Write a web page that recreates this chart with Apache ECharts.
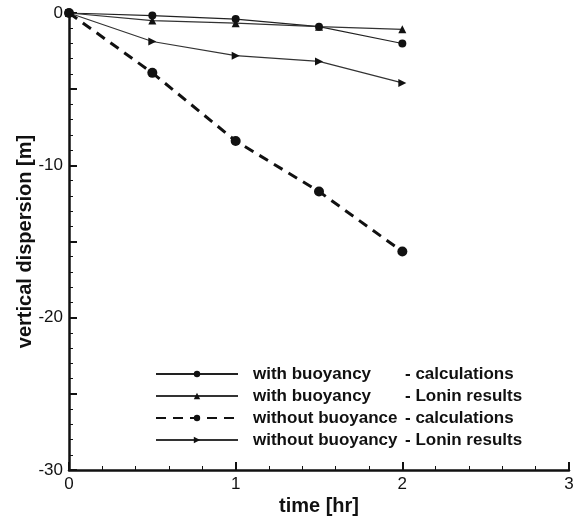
<!DOCTYPE html>
<html>
<head>
<meta charset="utf-8">
<script src="https://cdn.jsdelivr.net/npm/echarts@6/dist/echarts.min.js"></script>
<style>html,body{margin:0;padding:0;background:#fff}#c{width:578px;height:521px}</style>
</head>
<body>
<div id="c"></div>
<script>
var times = [0, 0.5, 1, 1.5, 2];
var withBuoyCalc = [0, -0.17, -0.4, -0.9, -2.0];
var withBuoyLonin = [0, -0.5, -0.67, -0.9, -1.07];
var withoutBuoyCalc = [0, -3.93, -8.4, -11.72, -15.66];
var withoutBuoyLonin = [0, -1.87, -2.8, -3.18, -4.59];
var legendLeft = ['with buoyancy', 'with buoyancy', 'without buoyance', 'without buoyancy'];
var legendRight = ['- calculations', '- Lonin results', '- calculations', '- Lonin results'];
var seriesNames = ['s1', 's2', 's3', 's4'];

function pairs(ys) { return times.map(function (t, i) { return [t, ys[i]]; }); }

var chart = echarts.init(document.getElementById('c'), null, {renderer: 'canvas'});
var font = 'Liberation Sans, Arial, sans-serif';
var ink = '#111';
chart.setOption({
  animation: false,
  backgroundColor: '#fff',
  grid: {left: 69, top: 13, right: 9, bottom: 48, containLabel: false},
  legend: {
    orient: 'vertical', left: 150, top: 359,
    itemWidth: 82, itemHeight: 8, itemGap: 2,
    data: seriesNames,
    formatter: function (name) {
      var i = seriesNames.indexOf(name);
      return '{a|' + legendLeft[i] + '}{b|' + legendRight[i] + '}';
    },
    textStyle: {
      color: ink, fontFamily: font, fontSize: 17, fontWeight: 'bold', lineHeight: 20,
      rich: {
        a: {width: 152, fontFamily: font, fontSize: 17, fontWeight: 'bold', color: ink, padding: [0, 0, 0, 10]},
        b: {fontFamily: font, fontSize: 17, fontWeight: 'bold', color: ink}
      }
    }
  },
  xAxis: {
    type: 'value', min: 0, max: 3, interval: 1,
    name: 'time [hr]', nameLocation: 'middle', nameGap: 26, nameMoveOverlap: false,
    nameTextStyle: {fontFamily: font, fontSize: 20, fontWeight: 'bold', color: ink},
    axisLine: {show: true, onZero: false, lineStyle: {color: ink, width: 2.5}},
    axisTick: {show: true, inside: true, length: 8, lineStyle: {color: ink, width: 2}},
    minorTick: {show: true, splitNumber: 5, length: 4, lineStyle: {color: ink, width: 1}},
    axisLabel: {fontFamily: font, fontSize: 17, color: ink, margin: 6},
    splitLine: {show: false}
  },
  yAxis: {
    type: 'value', min: -30, max: 0, interval: 5,
    name: 'vertical dispersion [m]', nameLocation: 'middle', nameGap: 34, nameMoveOverlap: false,
    nameTextStyle: {fontFamily: font, fontSize: 20, fontWeight: 'bold', color: ink},
    axisLine: {show: true, onZero: false, lineStyle: {color: ink, width: 2.5}},
    axisTick: {show: true, inside: true, length: 8, lineStyle: {color: ink, width: 2}},
    minorTick: {show: true, splitNumber: 5, length: 4, lineStyle: {color: ink, width: 1}},
    axisLabel: {fontFamily: font, fontSize: 17, color: ink, margin: 6,
      formatter: function (v) { return v % 10 === 0 ? String(v) : ''; }},
    splitLine: {show: false}
  },
  series: [
    {name: 's1', type: 'line', data: pairs(withBuoyCalc), symbol: 'circle', symbolSize: 8,
      lineStyle: {color: '#222', width: 1.2}, itemStyle: {color: '#111'}},
    {name: 's2', type: 'line', data: pairs(withBuoyLonin), symbol: 'triangle', symbolSize: 8,
      lineStyle: {color: '#333', width: 1.2}, itemStyle: {color: '#111'}},
    {name: 's3', type: 'line', data: pairs(withoutBuoyCalc), symbol: 'circle', symbolSize: 10,
      lineStyle: {color: '#111', width: 3, type: [10, 7]}, itemStyle: {color: '#111'}},
    {name: 's4', type: 'line', data: pairs(withoutBuoyLonin), symbol: 'triangle', symbolRotate: -90, symbolSize: 8,
      lineStyle: {color: '#333', width: 1.2}, itemStyle: {color: '#111'}}
  ]
});
</script>
</body>
</html>
